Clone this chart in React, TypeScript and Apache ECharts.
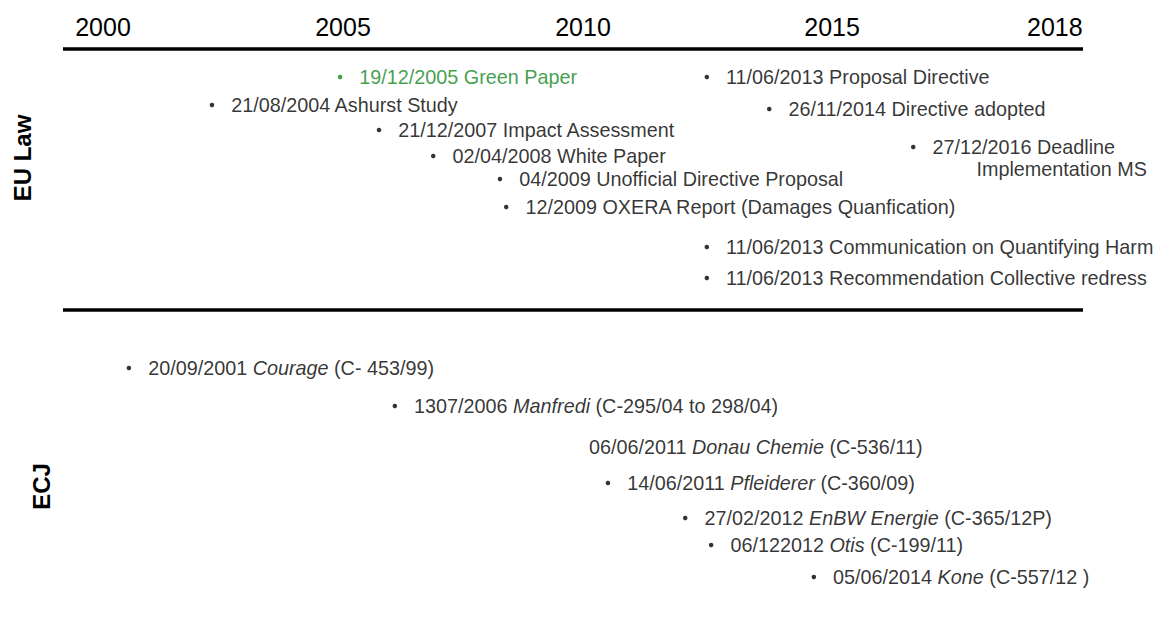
import React, { useEffect, useRef } from 'react';
import * as echarts from 'echarts';

// Timeline tick labels and where each one sits on the drawn (hand-spaced) timeline
const tickLabels = ['2000', '2005', '2010', '2015', '2018'];
const tickAt = [2000, 2005.0, 2010, 2015.19, 2019.83];

const sections = ['EU Law', 'ECJ'];

// EU Law events
const euDates = [
  '19/12/2005', '21/08/2004', '21/12/2007', '02/04/2008', '04/2009', '12/2009',
  '11/06/2013', '26/11/2014', '27/12/2016', '11/06/2013', '11/06/2013',
];
const euTitles = [
  'Green Paper', 'Ashurst Study', 'Impact Assessment', 'White Paper',
  'Unofficial Directive Proposal', 'OXERA Report (Damages Quanfication)',
  'Proposal Directive', 'Directive adopted', 'Deadline\nImplementation MS',
  'Communication on Quantifying Harm', 'Recommendation Collective redress',
];
const euX = [2004.94, 2002.27, 2005.75, 2006.88, 2008.27, 2008.40, 2012.58, 2013.88, 2016.88, 2012.58, 2012.58];
const euRow = [2.8, 5.6, 8.1, 10.7, 13.0, 15.8, 2.8, 6.0, 9.8, 19.8, 22.9];
const euHighlight = [true, false, false, false, false, false, false, false, false, false, false];

// ECJ judgments
const ecjDates = ['20/09/2001', '1307/2006', '06/06/2011', '14/06/2011', '27/02/2012', '06/122012', '05/06/2014'];
const ecjCases = ['Courage', 'Manfredi', 'Donau Chemie', 'Pfleiderer', 'EnBW Energie', 'Otis', 'Kone'];
const ecjRefs = ['(C- 453/99)', '(C-295/04 to 298/04)', '(C-536/11)', '(C-360/09)', '(C-365/12P)', '(C-199/11)', '(C-557/12 )'];
const ecjX = [2000.54, 2006.08, 2009.77, 2010.52, 2012.13, 2012.67, 2014.81];
const ecjRow = [5.8, 9.6, 13.7, 17.3, 20.8, 23.5, 26.7];
const ecjBullet = [true, true, false, true, true, true, true];

const FONT = "'Liberation Sans', Arial, Helvetica, sans-serif";
const TEXT = '#000000';
const GREEN = '#10861c';
const FS = 19.8;

export default function App() {
  const ref = useRef<HTMLDivElement>(null);

  useEffect(() => {
    if (!ref.current) return;
    const chart = echarts.init(ref.current, null, { renderer: 'svg' });

    const lineStyle = { color: '#000', width: 3.5, cap: 'butt' };
    const xMin = 1999.167;
    const xMax = 2020.417;

    const euData = euX.map((x, i) => {
      const item: any = { value: [x, euRow[i]] };
      if (euHighlight[i]) {
        item.itemStyle = { color: GREEN };
        item.label = { color: GREEN };
      }
      if (euTitles[i].includes('\n')) {
        item.label = { ...(item.label || {}), offset: [0, 11] };
      }
      return item;
    });

    const ecjData = ecjX.map((x, i) => {
      const item: any = { value: [x, ecjRow[i]] };
      if (!ecjBullet[i]) item.symbolSize = 0;
      return item;
    });

    const baseLabel = {
      show: true,
      position: 'right',
      distance: 17,
      fontSize: FS,
      lineHeight: 22,
      color: TEXT,
      fontFamily: FONT,
    };

    const option: any = {
      animation: false,
      backgroundColor: '#ffffff',
      grid: [
        { left: 63, right: 84, top: 49, height: 261 },
        { left: 63, right: 84, top: 310, height: 300 },
      ],
      xAxis: [
        {
          gridIndex: 0,
          type: 'value',
          position: 'top',
          min: xMin,
          max: xMax,
          axisLine: { show: true, onZero: false, lineStyle },
          axisTick: { show: false },
          splitLine: { show: false },
          axisLabel: {
            customValues: tickAt,
            formatter: (v: number) => {
              const idx = tickAt.findIndex((t) => Math.abs(t - v) < 1e-6);
              return idx >= 0 ? tickLabels[idx] : '';
            },
            fontSize: 25,
            color: '#000',
            fontFamily: FONT,
            margin: 10,
          },
        },
        {
          gridIndex: 1,
          type: 'value',
          position: 'top',
          min: xMin,
          max: xMax,
          axisLine: { show: true, onZero: false, lineStyle },
          axisTick: { show: false },
          splitLine: { show: false },
          axisLabel: { show: false },
        },
      ],
      yAxis: [
        {
          gridIndex: 0,
          type: 'value',
          inverse: true,
          min: 0,
          max: 26.1,
          axisLine: { show: false },
          axisTick: { show: false },
          axisLabel: { show: false },
          splitLine: { show: false },
          name: sections[0],
          nameLocation: 'middle',
          nameRotate: 90,
          nameGap: 29,
          nameTextStyle: {
            fontSize: 24,
            fontWeight: 'bold',
            color: '#000',
            fontFamily: FONT,
            padding: [0, 0, 0, 43],
          },
        },
        {
          gridIndex: 1,
          type: 'value',
          inverse: true,
          min: 0,
          max: 30,
          axisLine: { show: false },
          axisTick: { show: false },
          axisLabel: { show: false },
          splitLine: { show: false },
          name: sections[1],
          nameLocation: 'middle',
          nameRotate: 90,
          nameGap: 10,
          nameTextStyle: {
            fontSize: 24,
            fontWeight: 'bold',
            color: '#000',
            fontFamily: FONT,
            padding: [0, 53, 0, 0],
          },
        },
      ],
      series: [
        {
          name: sections[0],
          type: 'scatter',
          xAxisIndex: 0,
          yAxisIndex: 0,
          symbol: 'circle',
          symbolSize: 4.5,
          clip: false,
          itemStyle: { color: TEXT },
          label: {
            ...baseLabel,
            formatter: (p: any) =>
              `${euDates[p.dataIndex]} ${euTitles[p.dataIndex].replace('\n', '\n{pad| }')}`,
            rich: {
              pad: { width: 44, fontSize: FS, fontFamily: FONT },
            },
          },
          data: euData,
        },
        {
          name: sections[1],
          type: 'scatter',
          xAxisIndex: 1,
          yAxisIndex: 1,
          symbol: 'circle',
          symbolSize: 4.5,
          clip: false,
          itemStyle: { color: TEXT },
          label: {
            ...baseLabel,
            formatter: (p: any) =>
              `${ecjDates[p.dataIndex]} {i|${ecjCases[p.dataIndex]}} ${ecjRefs[p.dataIndex]}`,
            rich: {
              i: { fontStyle: 'italic', fontSize: FS, fontFamily: FONT, color: TEXT },
            },
          },
          data: ecjData,
        },
      ],
    };

    chart.setOption(option);
    return () => chart.dispose();
  }, []);

  return (
    <div
      ref={ref}
      style={{ position: 'fixed', left: 0, top: 0, width: 1167, height: 617, background: '#fff' }}
    />
  );
}
